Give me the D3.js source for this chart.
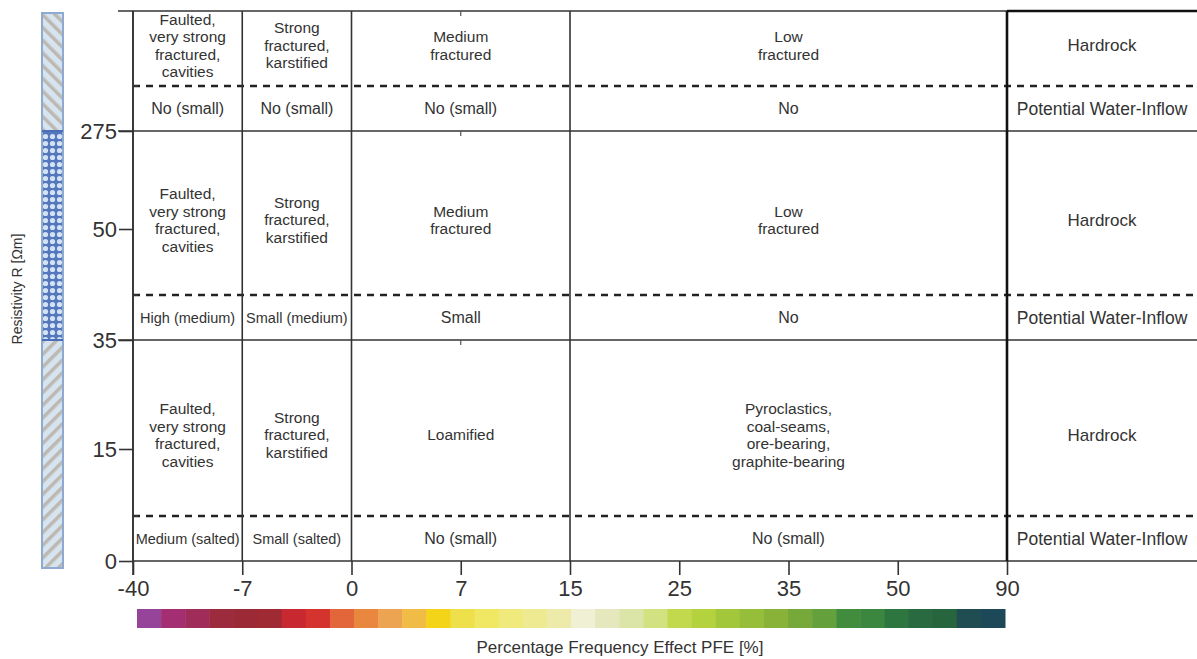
<!DOCTYPE html>
<html lang="en">
  <head>
    <meta charset="utf-8">
    <script src="https://cdn.jsdelivr.net/npm/d3@7"></script>
    <style>
      body { margin: 0; background: #fff; }
      text { font-family: "Liberation Sans", Arial, sans-serif; fill: #333; }
    </style>
  </head>
  <body>
    <div id="chart"></div>
    <script>
      // tick labels on both axes
      const xTicks = ['-40', '-7', '0', '7', '15', '25', '35', '50', '90']
      const yTicks = [0, 15, 35, 50, 275]

      // column borders (PFE) and the resistivity bands (bottom to top)
      const columnEdges = ['-40', '-7', '0', '15', '90']
      const bandBounds = [[0, 35], [35, 275], [275, null]]

      // cell labels, one list per band, left to right
      const geologyLow = ['Faulted,\nvery strong\nfractured,\ncavities', 'Strong\nfractured,\nkarstified', 'Loamified',
                          'Pyroclastics,\ncoal-seams,\nore-bearing,\ngraphite-bearing', 'Hardrock']
      const geologyMid = ['Faulted,\nvery strong\nfractured,\ncavities', 'Strong\nfractured,\nkarstified', 'Medium\nfractured',
                          'Low\nfractured', 'Hardrock']
      const geologyTop = ['Faulted,\nvery strong\nfractured,\ncavities', 'Strong\nfractured,\nkarstified', 'Medium\nfractured',
                          'Low\nfractured', 'Hardrock']
      const inflowLow = ['Medium (salted)', 'Small (salted)', 'No (small)', 'No (small)', 'Potential Water-Inflow']
      const inflowMid = ['High (medium)', 'Small (medium)', 'Small', 'No', 'Potential Water-Inflow']
      const inflowTop = ['No (small)', 'No (small)', 'No (small)', 'No', 'Potential Water-Inflow']

      // colour steps of the PFE bar, left to right
      const pfeColors = ['#96449a', '#a32f72', '#a02c5a', '#9c2b3e', '#9b2a36', '#a02a33', '#c8282f', '#d5332e',
                         '#e2663a', '#e8873d', '#eca452', '#f1bc45', '#f4d418', '#eee04a', '#f0e762', '#f0ea7c',
                         '#eeea92', '#eeeaaa', '#f0f0d4', '#e4e8bc', '#dce5a8', '#d2e280', '#c2d94e', '#b4d23e',
                         '#a2c73a', '#96be3a', '#88b338', '#76a83a', '#64a03c', '#428c3e', '#3c873f', '#2e7640',
                         '#2a6a40', '#27653f', '#1f4d52', '#1d4858']

      const w = 1197
      const h = 659
      const plotTop = 11
      const rightEdge = 1197
      const inflowRow = 45

      let svg = d3.select('#chart')
                  .append('svg')
                  .attr('width', w)
                  .attr('height', h)

      // the x axis is not linear: every tick sits at the same distance
      let xScale = d3.scalePoint()
                     .domain(xTicks)
                     .range([133, 1007])

      // same for resistivity, stretched piece by piece
      let yScale = d3.scaleLinear()
                     .domain(yTicks)
                     .range([561, 449, 340, 229, 131])

      function bandTop(b) { return b[1] === null ? plotTop : yScale(b[1]) }

      // patterns for the lithology column on the left
      let defs = svg.append('defs')
      function stripes(id, angle) {
         let p = defs.append('pattern')
                     .attr('id', id)
                     .attr('patternUnits', 'userSpaceOnUse')
                     .attr('width', 9)
                     .attr('height', 9)
                     .attr('patternTransform', 'rotate(' + angle + ')')
         p.append('rect').attr('width', 9).attr('height', 9).attr('fill', '#d6e4f0')
         p.append('rect').attr('width', 3.5).attr('height', 9).attr('fill', '#bdb9b2')
      }
      stripes('hatchDown', -45)
      stripes('hatchUp', 45)
      let dots = defs.append('pattern')
                     .attr('id', 'dots')
                     .attr('patternUnits', 'userSpaceOnUse')
                     .attr('width', 7)
                     .attr('height', 7)
      dots.append('rect').attr('width', 7).attr('height', 7).attr('fill', '#5578bd')
      dots.append('circle').attr('cx', 3.5).attr('cy', 3.5).attr('r', 2.6).attr('fill', '#d3e3f3')

      const colX = 42
      const colW = 21
      let litho = [
         {y0: plotTop + 2, y1: yScale(275), fill: 'url(#hatchDown)'},
         {y0: yScale(275), y1: yScale(35), fill: 'url(#dots)'},
         {y0: yScale(35), y1: yScale(0) + 7, fill: 'url(#hatchUp)'}
      ]
      svg.selectAll('rect.litho')
         .data(litho)
         .enter()
         .append('rect')
         .attr('class', 'litho')
         .attr('x', colX)
         .attr('y', function(d) { return d.y0 })
         .attr('width', colW)
         .attr('height', function(d) { return d.y1 - d.y0 })
         .attr('fill', function(d) { return d.fill })
      svg.append('rect')
         .attr('x', colX)
         .attr('y', plotTop + 2)
         .attr('width', colW)
         .attr('height', yScale(0) + 7 - plotTop - 2)
         .attr('fill', 'none')
         .attr('stroke', '#8ea9d2')
         .attr('stroke-width', 2)
      svg.selectAll('line.lithoSep')
         .data([275, 35])
         .enter()
         .append('line')
         .attr('x1', colX)
         .attr('x2', colX + colW)
         .attr('y1', function(d) { return yScale(d) })
         .attr('y2', function(d) { return yScale(d) })
         .attr('stroke', '#4a6fb8')
         .attr('stroke-width', 2)

      // horizontal band borders (with tick stubs left of the axis)
      let solidY = [plotTop, yScale(275), yScale(35), yScale(0)]
      svg.selectAll('line.hline')
         .data(solidY)
         .enter()
         .append('line')
         .attr('x1', function(d, i) { return i === 3 ? xScale('-40') : 118 })
         .attr('x2', rightEdge)
         .attr('y1', function(d) { return d })
         .attr('y2', function(d) { return d })
         .attr('stroke', '#333')
         .attr('stroke-width', 1.6)
      // top line is heavier above the hardrock column
      svg.append('line')
         .attr('x1', xScale('90'))
         .attr('x2', rightEdge)
         .attr('y1', plotTop)
         .attr('y2', plotTop)
         .attr('stroke', '#111')
         .attr('stroke-width', 2.6)

      // dashed line between rock description and water inflow
      svg.selectAll('line.dash')
         .data(bandBounds)
         .enter()
         .append('line')
         .attr('x1', xScale('-40'))
         .attr('x2', rightEdge)
         .attr('y1', function(d) { return yScale(d[0]) - inflowRow })
         .attr('y2', function(d) { return yScale(d[0]) - inflowRow })
         .attr('stroke', '#222')
         .attr('stroke-width', 2.6)
         .attr('stroke-dasharray', '7,6')

      // vertical column borders
      svg.selectAll('line.vline')
         .data(columnEdges)
         .enter()
         .append('line')
         .attr('x1', function(d) { return xScale(d) })
         .attr('x2', function(d) { return xScale(d) })
         .attr('y1', plotTop)
         .attr('y2', yScale(0))
         .attr('stroke', function(d) { return d === '90' ? '#111' : '#333' })
         .attr('stroke-width', function(d) { return d === '90' ? 2.6 : 1.6 })

      // x axis ticks and labels
      let xAxis = d3.axisBottom(xScale).tickSize(14).tickPadding(5)
      let gx = svg.append('g')
                  .attr('transform', 'translate(0,' + yScale(0) + ')')
                  .call(xAxis)
      gx.select('.domain').remove()
      gx.selectAll('line').attr('stroke', '#333').attr('stroke-width', 1.6)
      gx.selectAll('text')
        .attr('font-size', 22)
        .attr('fill', '#333')
        .style('font-family', '"Liberation Sans", Arial, sans-serif')

      // y axis
      let yAxis = d3.axisLeft(yScale).tickValues(yTicks).tickSize(14).tickPadding(2)
      let gy = svg.append('g')
                  .attr('transform', 'translate(' + xScale('-40') + ',0)')
                  .call(yAxis)
      gy.select('.domain').remove()
      gy.selectAll('line').attr('stroke', '#333').attr('stroke-width', 1.6)
      gy.selectAll('text')
        .attr('font-size', 22)
        .attr('fill', '#333')
        .style('font-family', '"Liberation Sans", Arial, sans-serif')
      svg.append('line')
         .attr('x1', xScale('-40'))
         .attr('x2', xScale('-40'))
         .attr('y1', plotTop)
         .attr('y2', yScale(0) + 14)
         .attr('stroke', '#333')
         .attr('stroke-width', 1.6)

      // small inner ticks at the dashed lines and at PFE 7
      svg.selectAll('line.minorY')
         .data(bandBounds)
         .enter()
         .append('line')
         .attr('x1', xScale('-40'))
         .attr('x2', xScale('-40') + 5)
         .attr('y1', function(d) { return yScale(d[0]) - inflowRow })
         .attr('y2', function(d) { return yScale(d[0]) - inflowRow })
         .attr('stroke', '#333')
         .attr('stroke-width', 2)
      svg.selectAll('line.minorX')
         .data([plotTop, yScale(275), yScale(35)])
         .enter()
         .append('line')
         .attr('x1', xScale('7'))
         .attr('x2', xScale('7'))
         .attr('y1', function(d) { return d })
         .attr('y2', function(d) { return d + 5 })
         .attr('stroke', '#555')
         .attr('stroke-width', 1.2)

      // cell texts
      let cells = []
      let geology = [geologyLow, geologyMid, geologyTop]
      let inflow = [inflowLow, inflowMid, inflowTop]
      bandBounds.forEach(function(b, bi) {
         let bottom = yScale(b[0])
         let dashY = bottom - inflowRow
         let top = bandTop(b)
         for (let c = 0; c < columnEdges.length; c++) {
            let left = xScale(columnEdges[c])
            let right = c + 1 < columnEdges.length ? xScale(columnEdges[c + 1]) : rightEdge
            let shift = (dashY - top) > 100 ? 7 : -3
            cells.push({x: (left + right) / 2, y: (top + dashY) / 2 + shift, text: geology[bi][c],
                        size: c === 4 ? 17 : 15.5})
            cells.push({x: (left + right) / 2, y: (dashY + bottom) / 2, text: inflow[bi][c],
                        size: c === 4 ? 17.5 : (c < 2 && inflow[bi][c].length > 11 ? 14.5 : 16)})
         }
      })

      let lineH = 17.5
      svg.selectAll('text.cell')
         .data(cells)
         .enter()
         .append('text')
         .attr('class', 'cell')
         .attr('text-anchor', 'middle')
         .attr('font-size', function(d) { return d.size })
         .each(function(d) {
            let lines = d.text.split('\n')
            let start = d.y - (lines.length - 1) * lineH / 2
            d3.select(this)
              .selectAll('tspan')
              .data(lines)
              .enter()
              .append('tspan')
              .attr('x', d.x)
              .attr('y', function(l, i) { return start + i * lineH })
              .attr('dy', '0.35em')
              .text(function(l) { return l })
         })

      // PFE colour bar
      let barScale = d3.scaleBand()
                       .domain(d3.range(pfeColors.length))
                       .range([137, 1005])
      svg.selectAll('rect.pfe')
         .data(pfeColors)
         .enter()
         .append('rect')
         .attr('class', 'pfe')
         .attr('x', function(d, i) { return barScale(i) })
         .attr('y', 609)
         .attr('width', barScale.bandwidth() + 0.5)
         .attr('height', 19)
         .attr('fill', function(d) { return d })

      // axis titles
      svg.append('text')
         .attr('x', 620)
         .attr('y', 653)
         .attr('text-anchor', 'middle')
         .attr('font-size', 17)
         .text('Percentage Frequency Effect PFE [%]')

      svg.append('text')
         .attr('transform', 'translate(22,' + 289 + ') rotate(-90)')
         .attr('text-anchor', 'middle')
         .attr('font-size', 14)
         .text('Resistivity R [Ωm]')
    </script>
  </body>
</html>
